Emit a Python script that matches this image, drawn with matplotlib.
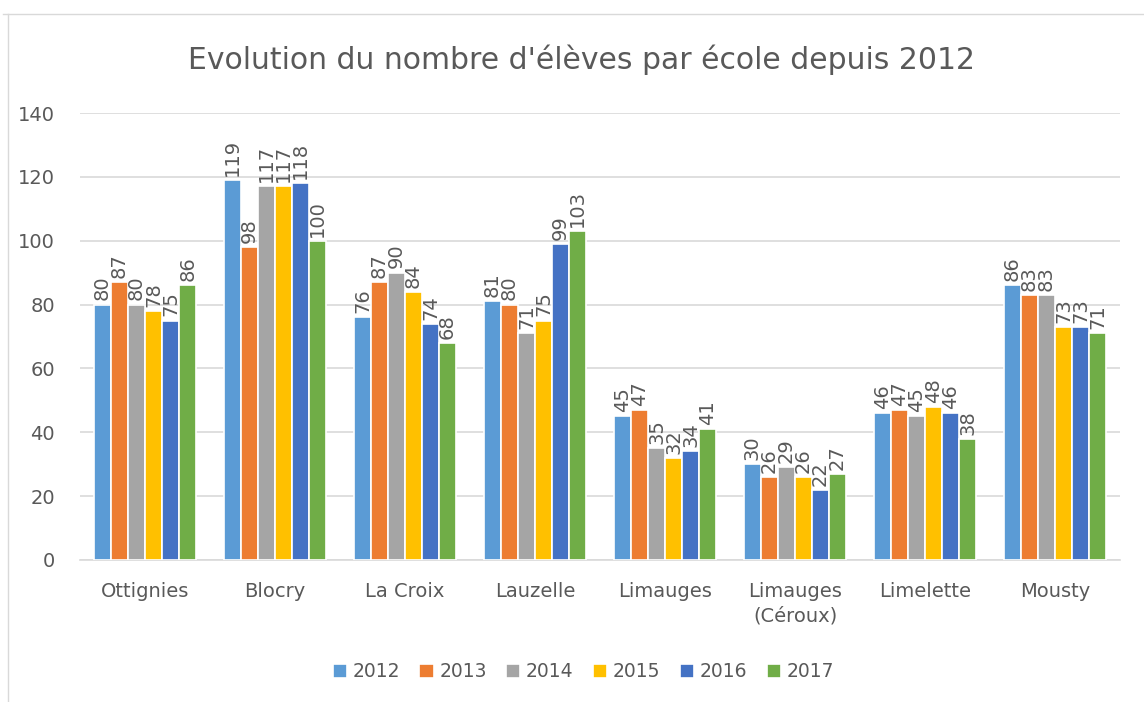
import numpy as np
import matplotlib.pyplot as plt
from matplotlib.lines import Line2D

# données
ecoles = ["Ottignies", "Blocry", "La Croix", "Lauzelle", "Limauges",
          "Limauges\n(Céroux)", "Limelette", "Mousty"]
annees = ["2012", "2013", "2014", "2015", "2016", "2017"]
v2012 = [80, 119, 76, 81, 45, 30, 46, 86]
v2013 = [87, 98, 87, 80, 47, 26, 47, 83]
v2014 = [80, 117, 90, 71, 35, 29, 45, 83]
v2015 = [78, 117, 84, 75, 32, 26, 48, 73]
v2016 = [75, 118, 74, 99, 34, 22, 46, 73]
v2017 = [86, 100, 68, 103, 41, 27, 38, 71]
series = [v2012, v2013, v2014, v2015, v2016, v2017]
couleurs = ["#5b9bd5", "#ed7d31", "#a5a5a5", "#ffc000", "#4472c4", "#70ad47"]

gris = "#595959"
plt.rcParams['font.family'] = ['DejaVu Sans']

fig = plt.figure(figsize=(11.44, 7.02), dpi=100)
ax = fig.add_axes([0.07, 0.2023, 0.909, 0.6367])

x = np.arange(len(ecoles))
pas = 0.131
for i, (vals, c) in enumerate(zip(series, couleurs)):
    pos = x + (i - 2.5) * pas
    barres = ax.bar(pos, vals, width=pas, color=c, edgecolor="white",
                    linewidth=1.2, label=annees[i], zorder=3)
    ax.bar_label(barres, rotation=90, padding=3, fontsize=14, color=gris)

ax.set_xlim(-0.5, len(ecoles) - 0.5)
ax.set_ylim(0, 140)
ax.set_yticks(range(0, 141, 20))
ax.set_xticks(x)
ax.set_xticklabels(ecoles, fontsize=14, color=gris, linespacing=1.35)
ax.tick_params(axis="y", labelsize=14, labelcolor=gris, length=0, pad=18)
ax.tick_params(axis="x", length=0, pad=16)
ax.grid(axis="y", color="#d9d9d9", linewidth=1.2, zorder=0)
for s in ["top", "right", "left"]:
    ax.spines[s].set_visible(False)
ax.spines["bottom"].set_color("#d9d9d9")
ax.spines["bottom"].set_linewidth(1.2)

fig.text(0.508, 0.915, "Evolution du nombre d'élèves par école depuis 2012",
         ha="center", va="center", fontsize=21.5, color=gris)

leg = fig.legend(loc="center", bbox_to_anchor=(0.51, 0.043), ncol=6,
                 frameon=False, fontsize=13.5, handlelength=0.75,
                 handleheight=0.75, handletextpad=0.3, columnspacing=1.05)
for t in leg.get_texts():
    t.set_color(gris)

# cadre du graphique
fig.add_artist(Line2D([3 / 1144, 1], [1 - 14 / 702, 1 - 14 / 702],
                      transform=fig.transFigure, color="#d9d9d9", linewidth=1))
fig.add_artist(Line2D([8 / 1144, 8 / 1144], [0, 1 - 14 / 702],
                      transform=fig.transFigure, color="#d9d9d9", linewidth=1))

fig.savefig("out.png", dpi=100)
